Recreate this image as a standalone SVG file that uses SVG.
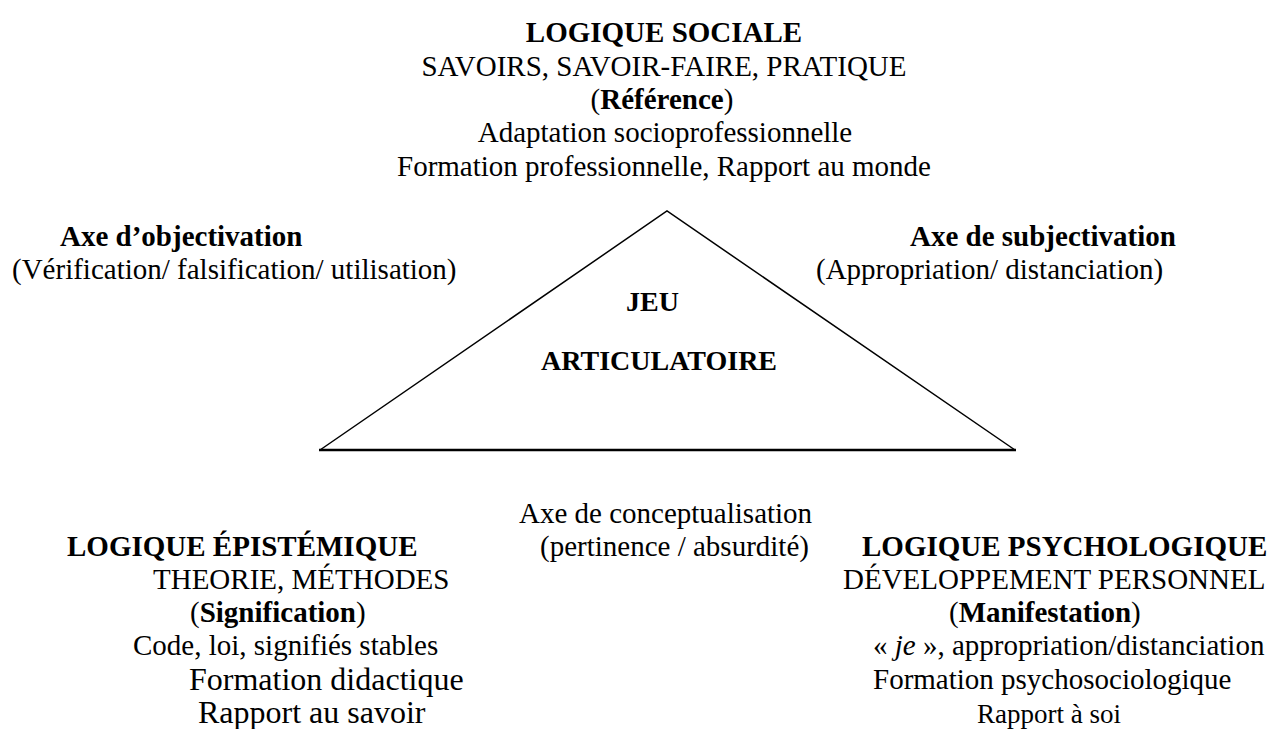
<svg xmlns="http://www.w3.org/2000/svg" width="1274" height="729" viewBox="0 0 1274 729">
  <style>
    text { font-family: "Liberation Serif", "Times New Roman", serif; font-size: 29px; fill: #000; }
    .b { font-weight: bold; }
    .mid { text-anchor: middle; }
    .big { font-size: 32px; }
    .core { font-size: 28px; font-weight: bold; }
    .small { font-size: 27px; }
    .tri { fill: none; stroke: #000; stroke-width: 1.5; stroke-linejoin: miter; }
    .base { stroke: #000; stroke-width: 2.5; }
  </style>
  <rect width="1274" height="729" fill="#fff"/>

  <!-- triangle -->
  <g id="triangle">
    <polyline class="tri" points="320,450 667,211 1015,450"/>
    <line class="base" x1="319" y1="450" x2="1016" y2="450"/>
  </g>

  <g id="center">
    <text class="core" x="626" y="311">JEU</text>
    <text class="core" x="541" y="370">ARTICULATOIRE</text>
  </g>

  <g id="logique-sociale">
    <text class="b mid" x="664" y="42">LOGIQUE SOCIALE</text>
    <text class="mid" x="664" y="75.5">SAVOIRS, SAVOIR-FAIRE, PRATIQUE</text>
    <text class="mid" x="662" y="109">(<tspan class="b">Référence</tspan>)</text>
    <text class="mid" x="665" y="142">Adaptation socioprofessionnelle</text>
    <text class="mid" x="664" y="175.5">Formation professionnelle, Rapport au monde</text>
  </g>

  <g id="axe-objectivation">
    <text class="b" x="60" y="246">Axe d’objectivation</text>
    <text x="12" y="279">(Vérification/ falsification/ utilisation)</text>
  </g>

  <g id="axe-subjectivation">
    <text class="b" x="910" y="246">Axe de subjectivation</text>
    <text x="816" y="279">(Appropriation/ distanciation)</text>
  </g>

  <g id="axe-conceptualisation">
    <text x="519" y="523">Axe de conceptualisation</text>
    <text x="540" y="556">(pertinence / absurdité)</text>
  </g>

  <g id="logique-epistemique">
    <text class="b" x="67" y="556">LOGIQUE ÉPISTÉMIQUE</text>
    <text x="153" y="589">THEORIE, MÉTHODES</text>
    <text x="190" y="622">(<tspan class="b">Signification</tspan>)</text>
    <text x="133" y="655">Code, loi, signifiés stables</text>
    <text class="big" x="189" y="690">Formation didactique</text>
    <text class="big" x="198" y="723">Rapport au savoir</text>
  </g>

  <g id="logique-psychologique">
    <text class="b" x="862" y="556">LOGIQUE PSYCHOLOGIQUE</text>
    <text x="843" y="589">DÉVELOPPEMENT PERSONNEL</text>
    <text x="949" y="622">(<tspan class="b">Manifestation</tspan>)</text>
    <text x="873" y="655">« <tspan font-style="italic">je</tspan> », appropriation/distanciation</text>
    <text x="873" y="689">Formation psychosociologique</text>
    <text class="small" x="977" y="723">Rapport à soi</text>
  </g>
</svg>
